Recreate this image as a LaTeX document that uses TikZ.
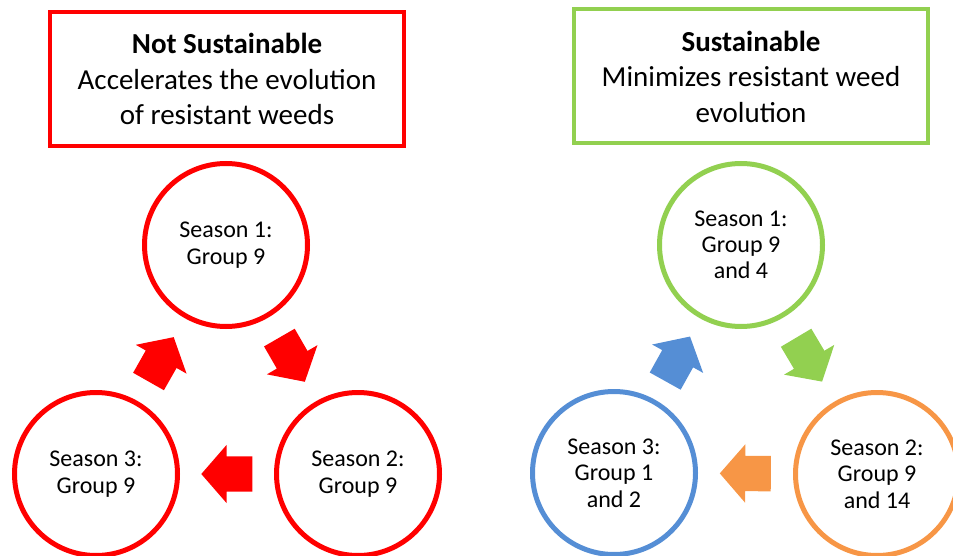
\documentclass[tikz,border=0pt]{standalone}
\usepackage{fontspec}
\setmainfont{Carlito}
\usepackage{tikz}
\usetikzlibrary{shapes.arrows}
\usetikzlibrary{calc}

\definecolor{nsred}{HTML}{FF0000}
\definecolor{sgreen}{HTML}{92D050}
\definecolor{sblue}{HTML}{558ED5}
\definecolor{sorange}{HTML}{F79646}

\tikzset{
    headbox/.style={draw=#1, line width=4pt, rectangle, minimum width=354pt, minimum height=134pt,
        inner sep=0pt, align=center, font=\fontsize{29}{35.5}\selectfont},
    season/.style={draw=#1, line width=5pt, circle, minimum size=163pt, inner sep=0pt,
        align=center, font=\fontsize{24}{26.3}\selectfont},
    blockarrow/.style={fill=#1, single arrow, minimum height=51pt, inner xsep=0pt, inner ysep=17.5pt,
        single arrow head extend=11.5pt, single arrow tip angle=98, sloped, allow upside down}
}

% block arrow centred half way between two seasons
\newcommand\seasonarrow[3]{%
    \path ($(#1)!.5!(#2)!25.5pt!(#1)$) -- node[blockarrow=#3, pos=0, anchor=tail] {} ($(#1)!.5!(#2)$);}

\begin{document}
\begin{tikzpicture}[x=1pt,y=-1pt]
    \useasboundingbox (0,0) rectangle (953,556);
    % left: one group every season
    \node[headbox=nsred] (nsbox) at (227,79) {\textbf{Not Sustainable}\\Accelerates the evolution\\of resistant weeds};
    \node[season=nsred] (ns1) at (226,245) {Season 1:\\Group 9};
    \node[season=nsred] (ns2) at (358,474) {Season 2:\\Group 9};
    \node[season=nsred] (ns3) at (96,474) {Season 3:\\Group 9};
    \seasonarrow{ns1}{ns2}{nsred}
    \seasonarrow{ns2}{ns3}{nsred}
    \seasonarrow{ns3}{ns1}{nsred}
    % right: groups rotated
    \node[headbox=sgreen] (sbox) at (751,76.5) {\textbf{Sustainable}\\Minimizes resistant weed\\evolution};
    \node[season=sgreen] (s1) at (741,245) {Season 1:\\Group 9\\and 4};
    \node[season=sorange] (s2) at (877,474) {Season 2:\\Group 9\\and 14};
    \node[season=sblue] (s3) at (614,473) {Season 3:\\Group 1\\and 2};
    \seasonarrow{s1}{s2}{sgreen}
    \seasonarrow{s2}{s3}{sorange}
    \seasonarrow{s3}{s1}{sblue}
\end{tikzpicture}
\end{document}
